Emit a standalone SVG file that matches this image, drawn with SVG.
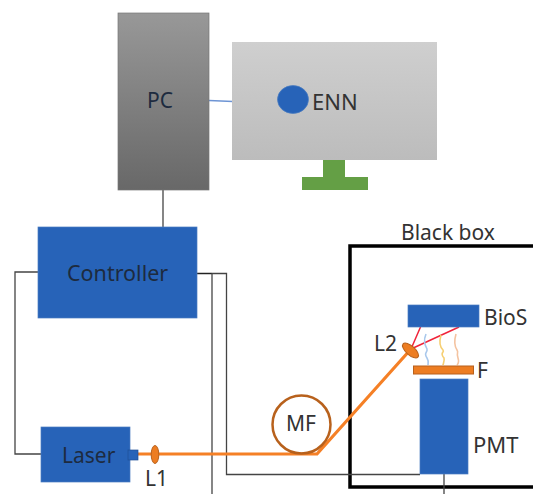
<svg xmlns="http://www.w3.org/2000/svg" width="533" height="494" viewBox="0 0 533 494">
<defs>
<linearGradient id="pcg" x1="0" y1="0" x2="0" y2="1"><stop offset="0" stop-color="#989898"/><stop offset="1" stop-color="#686868"/></linearGradient>
<linearGradient id="scr" x1="0" y1="0" x2="0" y2="1"><stop offset="0" stop-color="#cfcfcf"/><stop offset="1" stop-color="#bcbcbc"/></linearGradient>
</defs>
<style>
text{font-family:"Noto Sans","Liberation Sans",sans-serif;font-size:21px;fill:#333}
.dark{fill:#1d2b3f}
.blue{fill:#2763b8;stroke:#4a7cc0;stroke-width:.7}
.wire{fill:none;stroke:#444;stroke-width:1.300}
.fiber{fill:none;stroke:#f58026;stroke-width:3.200}
.org{fill:#ed7d22;stroke:#b8611c;stroke-width:1}
.ray{fill:none;stroke-width:1.600}
</style>
<rect width="533" height="494" fill="#fff"/>
<g id="blackbox"><rect x="350" y="246" width="190" height="241" fill="none" stroke="#000" stroke-width="3.500"/><text x="401" y="240">Black box</text></g>
<g id="connectors">
<path class="wire" d="M163 190V227"/>
<path d="M209 100.500L233 101.500" fill="none" stroke="#6d94d4" stroke-width="1.500"/>
<path class="wire" d="M38 272H15V454H41"/>
<path d="M197 273.500H212" fill="none" stroke="#222" stroke-width="1.500"/>
<path class="wire" d="M212 273V494"/>
<path class="wire" d="M212 273.500H226.500V474.500H420"/>
<path class="wire" d="M444 474V494"/>
<path class="fiber" d="M137 454H317L411 349"/>
<path d="M411 349L420.500 327M411 349L459 327" fill="none" stroke="#f0243a" stroke-width="1.500"/>
<path class="ray" d="M426 334C423 341 425 345 427 349C428 353 423 352 427 358C429 361 428 364 428 365" stroke="#a9c8ec"/>
<path class="ray" d="M441 335C439 342 440 347 443 350C445 353 439 352 444 358C445 361 443 364 443 365" stroke="#f6cf72"/>
<path class="ray" d="M456 334C454 341 455 347 457 350C459 353 456 352 458 358C459 361 458 364 457 365" stroke="#f4c3a0"/>
</g>
<g id="pc"><rect x="118" y="13" width="91" height="177" fill="url(#pcg)" stroke="#777" stroke-width=".7"/><text x="147" y="108" class="dark">PC</text></g>
<g id="monitor">
<rect x="323" y="159" width="22" height="18" fill="#649f45"/>
<rect x="302" y="177" width="66" height="13" fill="#649f45"/>
<rect x="232" y="42" width="205" height="118" fill="url(#scr)"/>
</g>
<g id="enn"><ellipse cx="293" cy="99.500" rx="15.500" ry="14" fill="#2763b8" stroke="#4a7cc0" stroke-width=".7"/><text x="312" y="110" style="font-size:22px">ENN</text></g>
<g id="controller"><rect class="blue" x="38" y="227" width="159" height="91"/><text x="67" y="281" class="dark" style="font-size:21.500px">Controller</text></g>
<g id="laser"><rect class="blue" x="41" y="427" width="89" height="55"/><rect x="128" y="450" width="10" height="10" fill="#2763b8" stroke="#1f4f96" stroke-width=".7"/><text x="62" y="463" class="dark">Laser</text></g>
<g id="l1"><ellipse cx="155" cy="454.500" rx="3.800" ry="9" class="org"/><text x="145" y="486">L1</text></g>
<g id="mf"><circle cx="301.500" cy="424.500" r="29" fill="none" stroke="#b8611c" stroke-width="2.500"/><text x="286" y="431">MF</text></g>
<g id="bios"><rect class="blue" x="408" y="305" width="71" height="22"/><text x="484" y="325">BioS</text></g>
<g id="l2"><ellipse cx="410.500" cy="350.500" rx="10" ry="4.500" transform="rotate(42 410.500 350.500)" class="org"/><text x="374" y="351">L2</text></g>
<g id="f"><rect class="org" x="413.500" y="366" width="60" height="8"/><text x="477" y="378">F</text></g>
<g id="pmt"><rect class="blue" x="420" y="379" width="48" height="95"/><text x="473" y="453" style="font-size:22px">PMT</text></g>
</svg>
